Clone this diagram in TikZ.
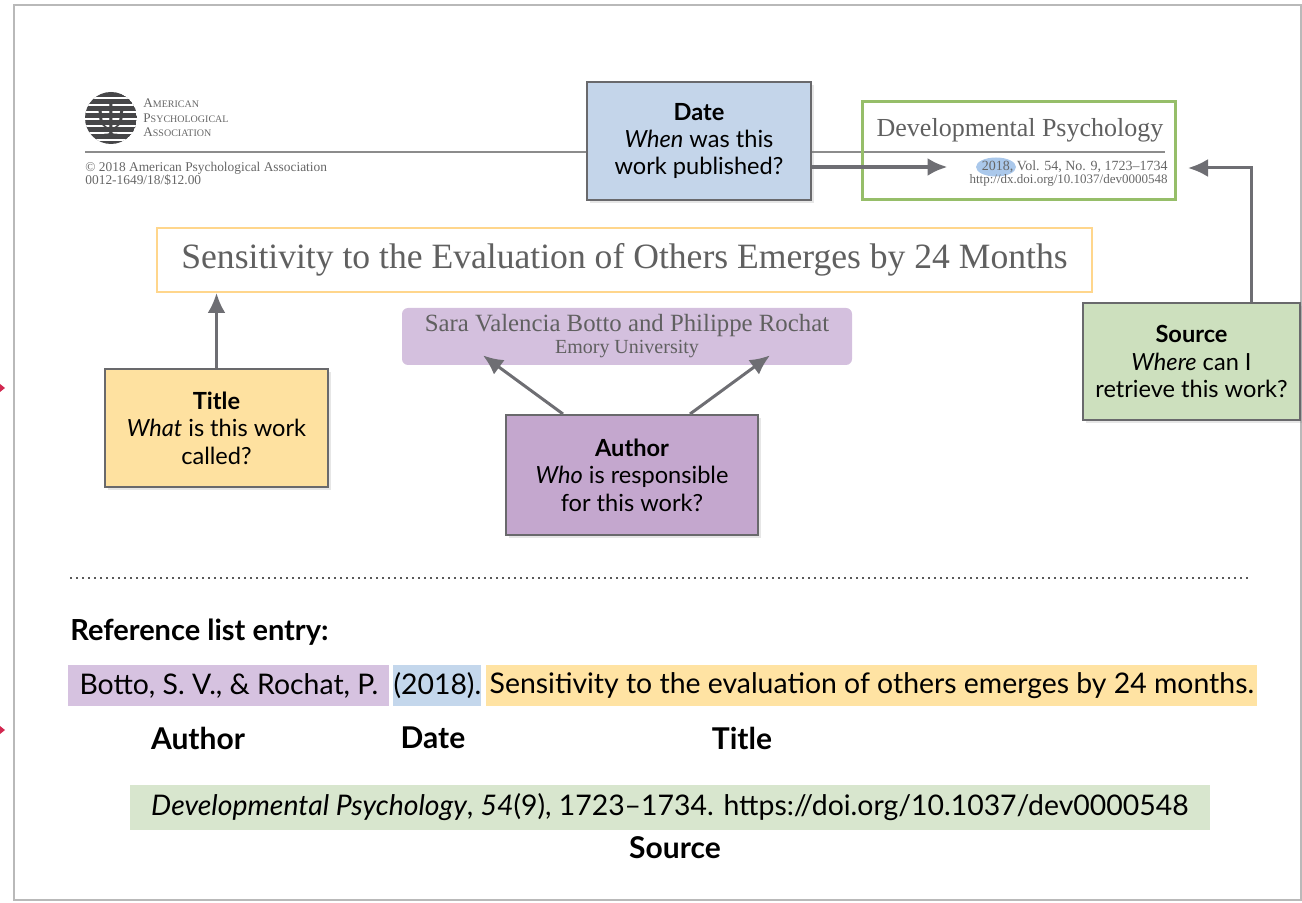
\documentclass[tikz,border=0pt]{standalone}
\usepackage{fontspec}
\setmainfont{Lato}
\newfontfamily\journalfont[Ligatures=TeX]{Liberation Serif}
\usepackage{tikz}
\definecolor{boxgray}{RGB}{105,105,108}
\definecolor{arrowgray}{RGB}{110,110,115}
\definecolor{rulegray}{RGB}{140,140,140}
\definecolor{logogray}{RGB}{70,70,72}
\definecolor{datefill}{RGB}{196,213,234}
\definecolor{titlefill}{RGB}{254,225,160}
\definecolor{authfill}{RGB}{196,167,206}
\definecolor{namefill}{RGB}{212,192,222}
\definecolor{srcfill}{RGB}{205,224,190}
\definecolor{srcline}{RGB}{150,190,105}
\definecolor{titleline}{RGB}{255,214,140}
\definecolor{authhl}{RGB}{214,194,224}
\definecolor{datehl}{RGB}{196,215,236}
\definecolor{titlehl}{RGB}{255,227,163}
\definecolor{srchl}{RGB}{216,230,206}
\definecolor{yearhl}{RGB}{170,200,235}
\definecolor{markred}{RGB}{210,40,80}
\usetikzlibrary{arrows, arrows.meta, positioning, shapes, shadows}
\tikzstyle{callout} = [draw=boxgray, line width=1pt, rectangle, align=center, minimum width=112pt, minimum height=59pt, font=\fontsize{11.8}{13.7}\selectfont, drop shadow={shadow xshift=1.5pt, shadow yshift=-1.5pt, opacity=0.2}]
\tikzstyle{hilite} = [rectangle, inner sep=0pt, minimum height=20.5pt, font=\fontsize{14.2}{16}\selectfont]
\tikzstyle{tag} = [font=\fontsize{15}{17}\selectfont\bfseries]
\tikzstyle{arrow} = [arrows=->, draw=arrowgray, line width=1.5pt]
\newcommand{\apasc}[2]{{\fontsize{6.6}{7.2}\selectfont #1}{\fontsize{5}{7.2}\selectfont #2}}

\begin{document}
\begin{tikzpicture}[x=0.5pt, y=-0.5pt, >={Latex[length=10pt,width=9pt]}]
    \useasboundingbox (0,0) rectangle (1302,903);
    % frame and margin marks
    \draw [gray!55, line width=1pt] (1301,5) -- (14,5) -- (14,900) -- (1301,900) -- cycle;
    \fill [markred] (0,384) -- (5,388) -- (0,392) -- cycle;
    \fill [markred] (0,726) -- (5,730) -- (0,734) -- cycle;

    % APA logo and header
    \begin{scope}
      \clip (111,118) circle (13pt);
      \fill [logogray] (111,118) circle (13pt);
      \foreach \yy in {98,105,...,140}
        \draw [white, line width=1pt] (80,\yy) -- (142,\yy);
    \end{scope}
    \node [text=logogray, font=\fontsize{24}{24}\selectfont] (psi) at (111,119) {$\Psi$};
    \node [anchor=west, align=left, inner sep=0pt, text=gray!80!black, font=\journalfont\fontsize{6.6}{7.2}\selectfont] (apa) at (143,118)
      {\apasc{A}{MERICAN}\\ \apasc{P}{SYCHOLOGICAL}\\ \apasc{A}{SSOCIATION}};
    \draw [rulegray, line width=1pt] (85,152) coordinate (ruleL) -- (1165,152) coordinate (ruleR);
    \node [anchor=north west, align=left, inner sep=0pt, text=gray!80!black, font=\journalfont\fontsize{6.7}{6.4}\selectfont] (copy) at (85,162)
      {\textcopyright\ 2018 American Psychological Association\\ 0012-1649/18/\$12.00};

    % journal box
    \node [draw=srcline, line width=1.5pt, rectangle, minimum width=156.5pt, minimum height=49pt] (journal) at (1018.5,151) {};
    \node [text=gray!75!black, font=\journalfont\fontsize{13}{15}\selectfont] (jname) at (1020,130) {Developmental Psychology};
    \node [ellipse, fill=yearhl, inner sep=0pt, minimum width=20pt, minimum height=9.5pt] (year) at (996,167) {};
    \node [anchor=base east, inner sep=0pt, text=gray!80!black, font=\journalfont\fontsize{7}{7}\selectfont] (jvol) at (1168,171)
      {2018, Vol. 54, No. 9, 1723--1734};
    \node [anchor=base east, inner sep=0pt, text=gray!80!black, font=\journalfont\fontsize{6.5}{7}\selectfont] (jdoi) at (1168,184)
      {http://dx.doi.org/10.1037/dev0000548};

    % callouts and the parts they point at
    \node [callout, fill=datefill] (date) at (699,141) {\textbf{Date}\\ \textit{When} was this\\ work published?};
    \node [draw=titleline, line width=1pt, rectangle, fill=white, minimum width=467.5pt, minimum height=32pt, text=gray!75!black, font=\journalfont\fontsize{17.8}{20}\selectfont] (title) at (624.5,260) {Sensitivity to the Evaluation of Others Emerges by 24 Months};
    \node [callout, fill=titlefill, minimum width=111.5pt] (titlebox) at (216.5,428) {\textbf{Title}\\ \textit{What} is this work\\ called?};
    \node [rectangle, rounded corners=3pt, fill=namefill, minimum width=225pt, minimum height=28.5pt, align=center, text=gray!75!black, font=\journalfont\fontsize{12.4}{11}\selectfont] (names) at (627,336.5)
      {Sara Valencia Botto and Philippe Rochat\\ {\fontsize{10}{10}\selectfont Emory University}};
    \node [callout, fill=authfill, minimum width=126pt, minimum height=60pt] (author) at (632,475) {\textbf{Author}\\ \textit{Who} is responsible\\ for this work?};
    \node [callout, fill=srcfill, minimum width=108.5pt, minimum height=58.5pt, inner sep=2pt] (source) at (1191.5,361.5) {\textbf{Source}\\ \textit{Where} can I\\ retrieve this work?};
    \coordinate (srcend) at (1188,168);

    % connect the callouts
    \draw [arrow, line width=2pt, shorten >=14pt] (date.east |- year.west) -- (year.west);
    \draw [arrow] ([xshift=30pt]source.north) |- (srcend);
    \draw [arrow] (titlebox.north) -- (titlebox.north |- title.south);
    \draw [arrow] ([xshift=-34.5pt]author.north) -- ([shift={(-72pt,5pt)}]names.south);
    \draw [arrow] ([xshift=29pt]author.north) -- ([shift={(71.5pt,5pt)}]names.south);

    % reference list entry
    \draw [gray!70!black, line width=1pt, dotted] (70,578) -- (1250,578);
    \node [anchor=base west, inner sep=0pt, font=\fontsize{14.5}{16}\selectfont\bfseries] (reflabel) at (70,640) {Reference list entry:};
    \node [hilite, fill=authhl, minimum width=160.5pt, anchor=west] (authhl) at (68,685.5) {Botto, S. V., \& Rochat, P.};
    \node [hilite, fill=datehl, minimum width=44pt, anchor=west] (datehl) at (393,685.5) {(2018).};
    \node [hilite, fill=titlehl, minimum width=385.5pt, anchor=west] (titlehl) at (486,685.5) {Sensitivity to the evaluation of others emerges by 24 months.};
    \node [tag] (authtag) at (198,738) {Author};
    \node [tag] (datetag) at (433,738) {Date};
    \node [tag] (titletag) at (742,738) {Title};
    \node [hilite, fill=srchl, minimum width=540pt, minimum height=22.5pt] (srchl) at (670,807.5) {\textit{Developmental Psychology}, \textit{54}(9), 1723--1734. https://doi.org/10.1037/dev0000548};
    \node [tag] (srctag) at (675,848) {Source};
\end{tikzpicture}
\end{document}
